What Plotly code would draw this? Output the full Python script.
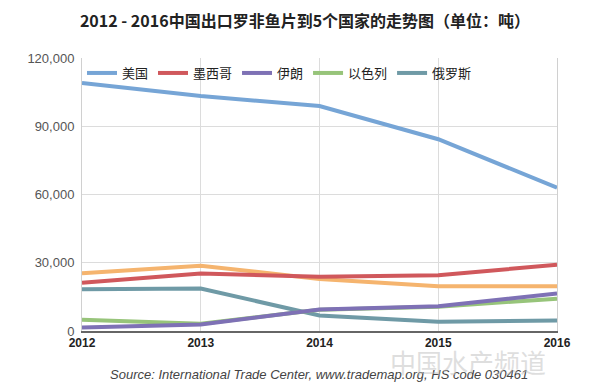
import plotly.graph_objects as go

years = [2012, 2013, 2014, 2015, 2016]
tick_labels = ["2012", "2013", "2014", "2015", "2016"]
usa = [109000, 103300, 98900, 84300, 63000]
mexico = [21200, 25300, 23800, 24500, 29100]
iran = [1500, 2900, 9400, 10900, 16500]
israel = [4900, 3200, 9300, 10700, 14200]
russia = [18300, 18700, 6800, 4100, 4600]
other = [25400, 28700, 22900, 19700, 19700]

names = ["美国", "墨西哥", "伊朗", "以色列", "俄罗斯"]
colors = ["#76a5d6", "#d0585c", "#7e71b5", "#97c47a", "#6f9aa6"]
series = [usa, mexico, iran, israel, russia]

fig = go.Figure()
fig.add_trace(go.Scatter(x=years, y=other, mode="lines", name="其他",
                         line=dict(color="#f5b46e", width=4), showlegend=False))
for i in [4, 3, 2, 1, 0]:
    fig.add_trace(go.Scatter(x=years, y=series[i], mode="lines", name=names[i],
                             legendrank=i, line=dict(color=colors[i], width=4)))

# the page body has an 8px margin, so the figure is sized/placed to compensate
fig.update_layout(
    width=594, height=382,
    margin=dict(l=74, r=45, t=50, b=59),
    paper_bgcolor="white", plot_bgcolor="white",
    title=dict(text="<b>2012 - 2016中国出口罗非鱼片到5个国家的走势图（单位：吨）</b>",
               x=0.5, xanchor="center", y=0.966, yanchor="middle",
               font=dict(family="Noto Sans CJK SC", size=16, color="#222")),
    font=dict(family="Liberation Sans, Arial", color="#555"),
    legend=dict(orientation="h", x=0.0, xanchor="left", y=1.0, yanchor="top",
                bgcolor="rgba(0,0,0,0)", itemwidth=30, traceorder="normal",
                font=dict(family="Noto Sans CJK SC", size=13, color="#222")),
    showlegend=True,
)
fig.update_xaxes(range=[2012, 2016], tickvals=years, ticktext=["<b>%s</b>" % t for t in tick_labels],
                 tickfont=dict(family="Liberation Sans, Arial", size=12, color="#222"),
                 showgrid=True, gridcolor="#dcdcdc", gridwidth=1,
                 showline=True, linecolor="#666", linewidth=2, zeroline=False, ticks="")
fig.update_yaxes(range=[0, 120000], tickvals=[0, 30000, 60000, 90000, 120000], tickformat=",d",
                 tickfont=dict(family="Liberation Sans, Arial", size=13, color="#555"),
                 showgrid=True, gridcolor="#dcdcdc", gridwidth=1,
                 showline=True, linecolor="#d0d0d0", linewidth=1, mirror=True,
                 zeroline=False, ticks="", ticklabelstandoff=4)

fig.add_annotation(text="<i>Source: International Trade Center, www.trademap.org, HS code 030461</i>",
                   xref="paper", yref="paper", x=0.055, xanchor="left", y=-0.161, yanchor="middle",
                   showarrow=False,
                   font=dict(family="Liberation Sans, Arial", size=13, color="#444"))
fig.add_annotation(text="中国水产频道", xref="paper", yref="paper", x=0.813, xanchor="center",
                   y=-0.11, yanchor="middle", showarrow=False,
                   font=dict(family="Noto Sans CJK SC", size=26, color="rgba(190,190,190,0.5)"))

fig.write_html("out.html")
